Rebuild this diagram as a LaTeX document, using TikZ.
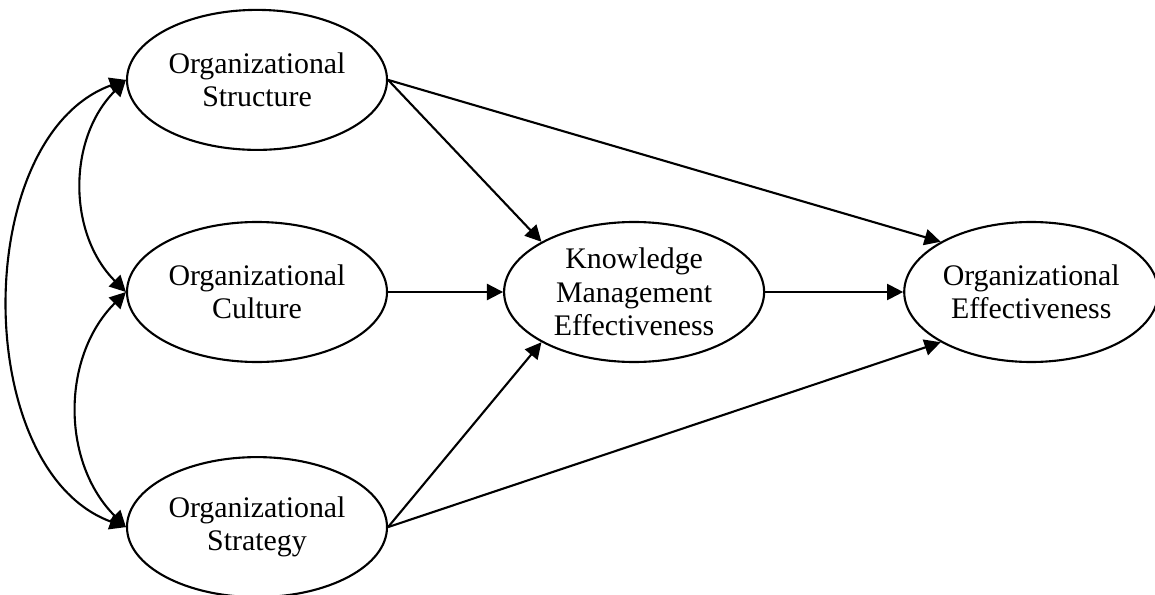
\documentclass[tikz,border=0pt]{standalone}
\usepackage{fontspec}
\setmainfont{Liberation Serif}
\usetikzlibrary{arrows.meta,positioning,shapes.geometric}
\tikzset{
  construct/.style={draw=black, ellipse, line width=0.6pt, minimum width=2.6cm, minimum height=1.4cm, inner sep=0pt, align=center, font=\fontsize{8.5}{9.5}\selectfont},
  link/.style={-{Triangle[length=4.6pt, width=4.6pt]}, line width=0.6pt, draw=black},
  corr/.style={{Triangle[length=4.6pt, width=4.6pt]}-{Triangle[length=4.6pt, width=4.6pt]}, line width=0.6pt, draw=black}
}
\begin{document}
\begin{tikzpicture}
  \useasboundingbox (0,0) rectangle (11.55,-5.95);

  \node[construct] (culture) at (2.57,-2.92) {Organizational\\Culture};
  \node[construct, above=0.7cm of culture] (structure) {Organizational\\Structure};
  \node[construct, below=0.93cm of culture] (strategy) {Organizational\\Strategy};
  \node[construct, right=1.15cm of culture] (kme) {Knowledge\\Management\\Effectiveness};
  \node[construct, minimum width=2.54cm, right=1.38cm of kme] (oe) {Organizational\\Effectiveness};

  \draw[link] (structure.east) -- (kme.north west);
  \draw[link] (structure.east) -- (oe.north west);
  \draw[link] (culture) -- (kme);
  \draw[link] (kme) -- (oe);
  \draw[link] (strategy.east) -- (kme.south west);
  \draw[link] (strategy.east) -- (oe.south west);

  \draw[corr] (structure.west) to[out=225, in=135] (culture.west);
  \draw[corr] (culture.west) to[out=225, in=135] (strategy.west);
  \draw[corr] (structure.west) to[out=200, in=160, looseness=0.95] (strategy.west);
\end{tikzpicture}
\end{document}
